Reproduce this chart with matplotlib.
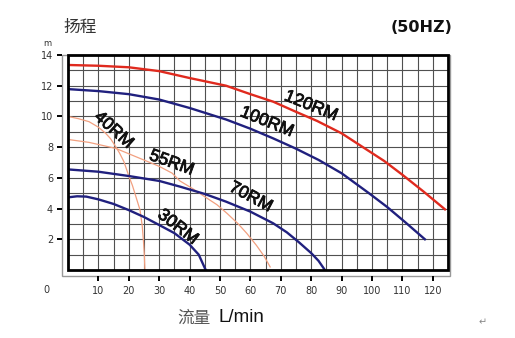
import matplotlib
matplotlib.use('Agg')
import matplotlib.pyplot as plt
import matplotlib.patheffects as pe
from matplotlib.patches import Rectangle

# Curve data (flow L/min, head m)
x_120 = [0, 10, 20, 30, 40, 52, 60, 67.5, 75, 82, 90, 97, 104, 110, 117, 124]
y_120 = [13.35, 13.3, 13.2, 12.95, 12.5, 12.0, 11.45, 10.96, 10.3, 9.7, 8.9, 8.0, 7.1, 6.2, 5.1, 3.95]

x_100 = [0, 10, 20, 30, 40, 52, 60, 67.5, 75, 82.5, 90, 99, 105, 111, 117.4]
y_100 = [11.78, 11.65, 11.45, 11.1, 10.55, 9.8, 9.2, 8.57, 7.9, 7.16, 6.3, 5.0, 4.1, 3.1, 2.0]

x_70 = [0, 10, 20, 30, 37, 45, 52, 60, 67.5, 72, 76, 80, 82.4, 84.5]
y_70 = [6.55, 6.4, 6.12, 5.8, 5.42, 4.95, 4.45, 3.8, 3.04, 2.45, 1.8, 1.1, 0.6, 0]

x_30 = [0, 3, 6, 10, 15, 20, 25, 30, 35, 40, 43, 45.3]
y_30 = [4.73, 4.8, 4.78, 4.6, 4.3, 3.9, 3.45, 2.93, 2.4, 1.65, 1.0, 0]

x_40 = [0, 3.5, 6.9, 10, 12.4, 14, 15.7, 17, 18.4, 20.1, 21.2, 22.3, 23.7, 24.4, 24.8, 25.1, 25.3]
y_40 = [10.0, 9.85, 9.66, 9.3, 8.9, 8.55, 8.03, 7.6, 7.05, 6.07, 5.5, 4.8, 3.9, 2.9, 1.95, 1.0, 0]

x_55 = [0, 6.9, 15.7, 24.5, 30, 34.3, 36.8, 41, 45, 49, 52.3, 56, 58.8, 62, 64.5, 66.5]
y_55 = [8.5, 8.31, 7.92, 7.2, 6.75, 6.3, 5.8, 5.3, 4.77, 4.25, 3.69, 3.0, 2.39, 1.6, 0.9, 0.2]

x_ticks = [10, 20, 30, 40, 50, 60, 70, 80, 90, 100, 110, 120]
y_ticks = [2, 4, 6, 8, 10, 12, 14]

# label text, position, rotation
labels = [("120RM", 79.9, 10.68, -22), ("100RM", 65.4, 9.64, -22),
          ("40RM", 15.0, 9.11, -42), ("55RM", 34.1, 6.97, -20),
          ("70RM", 60.1, 4.75, -28), ("30RM", 36.1, 2.8, -38)]

red = '#e02a1e'
navy = '#20207e'
salmon = '#f2a080'

W, H = 515, 338
fig = plt.figure(figsize=(W / 100, H / 100), dpi=100)
fig.patch.set_facecolor('white')
ax = fig.add_axes([68 / W, 1 - 270 / H, (448 - 68) / W, (270 - 55) / H])

# gray shadow frame behind the plot
fig.add_artist(Rectangle((62 / W, 1 - 275.5 / H), (450 - 62) / W, (275.5 - 55) / H,
                         transform=fig.transFigure, facecolor='white',
                         edgecolor='#999999', lw=1.0, zorder=-1))

ax.set_xlim(0, 125)
ax.set_ylim(0, 14)

# grid
for gx in range(5, 125, 5):
    ax.axvline(gx, color='#505050', lw=0.8, zorder=1)
for gy in range(1, 14):
    ax.axhline(gy, color='#505050', lw=0.8, zorder=1)

ax.plot(x_40, y_40, color=salmon, lw=0.9, zorder=2)
ax.plot(x_55, y_55, color=salmon, lw=0.9, zorder=2)
ax.plot(x_120, y_120, color=red, lw=1.7, zorder=3)
ax.plot(x_100, y_100, color=navy, lw=1.7, zorder=3)
ax.plot(x_70, y_70, color=navy, lw=1.7, zorder=3)
ax.plot(x_30, y_30, color=navy, lw=1.7, zorder=3)

for txt, lx, ly, rot in labels:
    ax.text(lx, ly, txt, rotation=rot, rotation_mode='anchor', ha='center', va='center',
            fontsize=12.5, family='Liberation Sans', color='#111111', zorder=4,
            path_effects=[pe.withStroke(linewidth=0.6, foreground='#111111')])

# black frame
ax.add_patch(Rectangle((0, 0), 1, 1, transform=ax.transAxes, fill=False,
                       edgecolor='black', lw=2.0, zorder=5, clip_on=False))

for s in ax.spines.values():
    s.set_visible(False)
ax.spines['bottom'].set_position(('outward', 4.5))
ax.spines['left'].set_position(('outward', 4.3))

ax.set_xticks(x_ticks)
ax.set_yticks(y_ticks)
ax.tick_params(axis='x', direction='out', length=3.5, width=1.4, pad=3.5,
               labelsize=7, labelcolor='#333333')
ax.tick_params(axis='y', direction='out', length=3.5, width=1.4, pad=3,
               labelsize=7, labelcolor='#333333')

cjk = ['Noto Sans CJK SC', 'DejaVu Sans']
fig.text(63 / W, 1 - 27 / H, "扬程", family=cjk, fontsize=12, color='#333333',
         ha='left', va='center')
fig.text(452 / W, 1 - 27 / H, "(50HZ)", fontsize=11.5, fontweight='bold',
         color='#111111', ha='right', va='center')
fig.text(47 / W, 1 - 44 / H, "m", fontsize=6, color='#333333', ha='center', va='center')
fig.text(46 / W, 1 - 290 / H, "0", fontsize=7, color='#333333', ha='center', va='center')
fig.text(177 / W, 1 - 318 / H, "流量", family=cjk, fontsize=12, color='#555555',
         ha='left', va='center')
fig.text(218 / W, 1 - 318 / H, "L/min", family='Liberation Sans', fontsize=13.5,
         color='#111111', ha='left', va='center')
fig.text(483 / W, 1 - 322 / H, "↵", fontsize=7, color='#888888', ha='center', va='center')

fig.savefig('out.png', dpi=100)
